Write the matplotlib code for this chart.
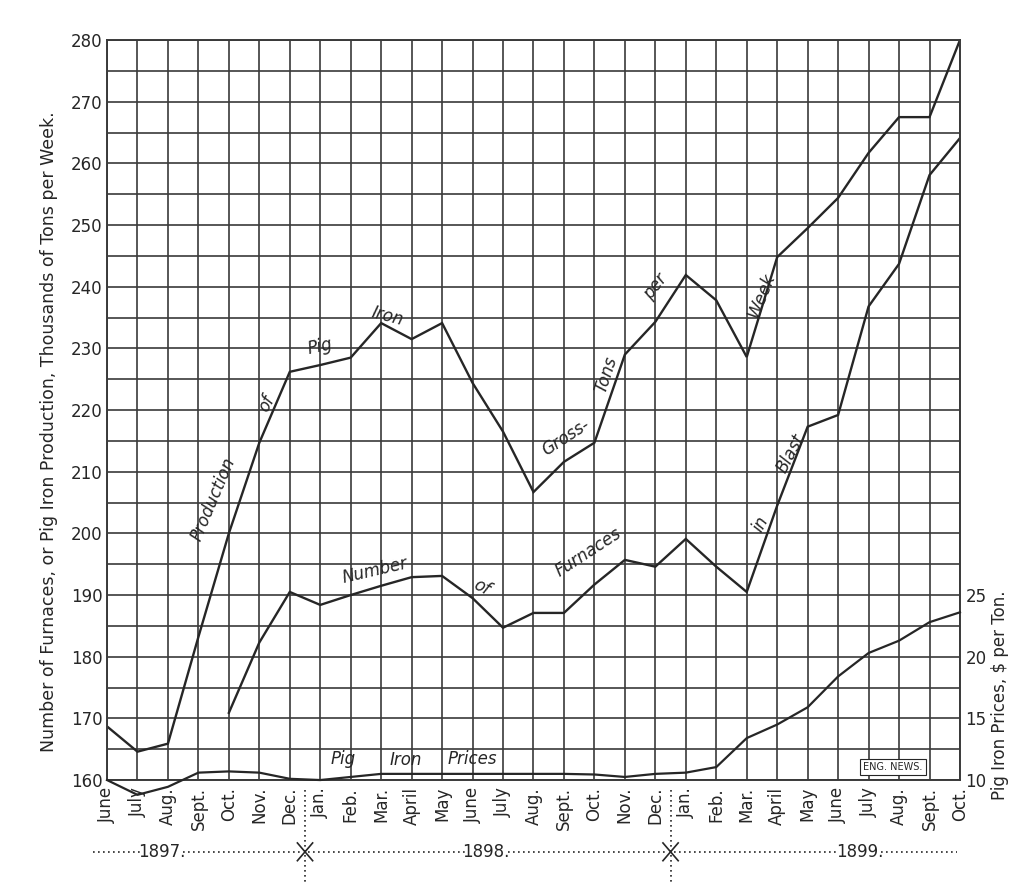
import numpy as np
import matplotlib
matplotlib.use("Agg")
import matplotlib.pyplot as plt
import matplotlib.transforms as mtransforms

# Months June 1897 .. Oct. 1899
months = ["June", "July", "Aug.", "Sept.", "Oct.", "Nov.", "Dec.",
          "Jan.", "Feb.", "Mar.", "April", "May", "June", "July", "Aug.",
          "Sept.", "Oct.", "Nov.", "Dec.",
          "Jan.", "Feb.", "Mar.", "April", "May", "June", "July", "Aug.",
          "Sept.", "Oct."]
years = ["1897.", "1898.", "1899."]

# Pig iron production, thousands of gross tons per week
production = [168.7, 164.6, 165.9, 183.2, 200.0, 214.7, 226.2,
              227.3, 228.5, 234.1, 231.5, 234.1, 224.4, 216.5, 206.7,
              211.6, 214.7, 229.0, 234.3,
              241.9, 237.8, 228.6, 244.8, 249.5, 254.4, 261.7, 267.5,
              267.5, 280.0]

# Number of furnaces in blast (starts Oct. 1897)
furnaces = [np.nan, np.nan, np.nan, np.nan, 170.9, 182.3, 190.5,
            188.4, 190.0, 191.5, 192.9, 193.1, 189.5, 184.7, 187.1,
            187.1, 191.7, 195.7, 194.6,
            199.1, 194.6, 190.5, 204.5, 217.3, 219.2, 236.8, 243.7,
            258.1, 264.1]

# Pig iron prices, $ per ton
prices = [10.0, 8.8, 9.45, 10.6, 10.7, 10.6, 10.1,
          10.0, 10.25, 10.5, 10.5, 10.5, 10.5, 10.5, 10.5,
          10.5, 10.45, 10.25, 10.5,
          10.6, 11.05, 13.4, 14.5, 15.9, 18.4, 20.3, 21.3,
          22.8, 23.6]

ink = "#262626"
grid_c = "#3a3a3a"

fig = plt.figure(figsize=(10.22, 8.82), dpi=100)
fig.patch.set_facecolor("white")
ax = fig.add_axes([0.1047, 0.1156, 0.8346, 0.839])

x = np.arange(len(months))

ax.set_xlim(0, len(months) - 1)
ax.set_ylim(160, 280)
ax.set_xticks(x)
ax.set_xticklabels(months, rotation=90, fontsize=12, color=ink)
ax.set_yticks(np.arange(160, 281, 10))
ax.set_yticks(np.arange(165, 280, 10), minor=True)
ax.tick_params(axis="both", which="both", length=0, labelcolor=ink)
ax.tick_params(axis="y", labelsize=12, pad=3)
ax.tick_params(axis="x", pad=5)
ax.grid(True, which="both", color=grid_c, lw=1.2)
for sp in ax.spines.values():
    sp.set_color(grid_c)
    sp.set_linewidth(1.4)

ax.plot(x, production, color=ink, lw=1.7, solid_joinstyle="miter")
ax.plot(x, furnaces, color=ink, lw=1.7, solid_joinstyle="miter")

# prices on right-hand scale: $10 at the base line, $5 per 10 units
ax2 = ax.twinx()
ax2.set_ylim(10, 70)
ax2.set_yticks([10, 15, 20, 25])
ax2.tick_params(axis="y", length=0, labelsize=12, pad=4, labelcolor=ink)
for sp in ax2.spines.values():
    sp.set_visible(False)
ax2.plot(x, prices, color=ink, lw=1.6, clip_on=False)

# lettering along the curves
lab = dict(fontsize=12, style="italic", color=ink, ha="center", va="center")
ax.text(3.5, 205.5, "Production", rotation=67, **lab)
ax.text(5.25, 221, "of", rotation=62, **lab)
ax.text(7.0, 230.3, "Pig", rotation=12, **lab)
ax.text(9.2, 235.2, "Iron", rotation=-15, **lab)
ax.text(15.05, 215.5, "Gross-", rotation=33, **lab)
ax.text(16.4, 225.7, "Tons", rotation=72, **lab)
ax.text(18.0, 240.0, "per", rotation=52, **lab)
ax.text(21.5, 238.5, "Week", rotation=68, **lab)
ax.text(8.8, 194.0, "Number", rotation=13, **lab)
ax.text(12.3, 191.3, "of", rotation=-28, **lab)
ax.text(15.8, 197.0, "Furnaces", rotation=33, **lab)
ax.text(21.45, 201.6, "in", rotation=62, **lab)
ax.text(22.45, 213.0, "Blast", rotation=62, **lab)
ax.text(7.75, 163.4, "Pig", **lab)
ax.text(9.8, 163.3, "Iron", **lab)
ax.text(12.0, 163.4, "Prices", **lab)

ax.text(25.8, 162.1, "ENG. NEWS.", fontsize=7, color=ink, ha="center",
        va="center", bbox=dict(boxstyle="square,pad=0.35", fc="white",
                               ec=ink, lw=0.8))

# year strip below the month names
tr = mtransforms.blended_transform_factory(ax.transData, ax.transAxes)
yy = -0.097
dot = dict(color=ink, lw=1.2, ls=(0, (1, 2)), transform=tr, clip_on=False)
year_pos = [1.8, 12.45, 24.7]
for xa, xb in [(-0.45, 1.1), (2.5, 6.4), (6.6, 11.75), (13.15, 18.4),
               (18.6, 24.0), (25.4, 27.9)]:
    ax.plot([xa, xb], [yy, yy], **dot)
for xp, yr in zip(year_pos, years):
    ax.text(xp, yy, yr, transform=tr, fontsize=12, color=ink,
            ha="center", va="center")
for xs in [6.5, 18.5]:
    ax.plot([xs, xs], [-0.013, -0.14], **dot)
    ax.plot([xs - 0.25, xs + 0.25], [yy - 0.012, yy + 0.012], color=ink,
            lw=1.2, transform=tr, clip_on=False)
    ax.plot([xs - 0.25, xs + 0.25], [yy + 0.012, yy - 0.012], color=ink,
            lw=1.2, transform=tr, clip_on=False)

fig.text(0.048, 0.51, "Number of Furnaces, or Pig Iron Production, "
         "Thousands of Tons per Week.", rotation=90, fontsize=12.5,
         color=ink, ha="center", va="center")
fig.text(0.978, 0.212, "Pig Iron Prices, \\$ per Ton.", rotation=90,
         fontsize=12, color=ink, ha="center", va="center")

fig.savefig("out.png", dpi=100, facecolor="white")
